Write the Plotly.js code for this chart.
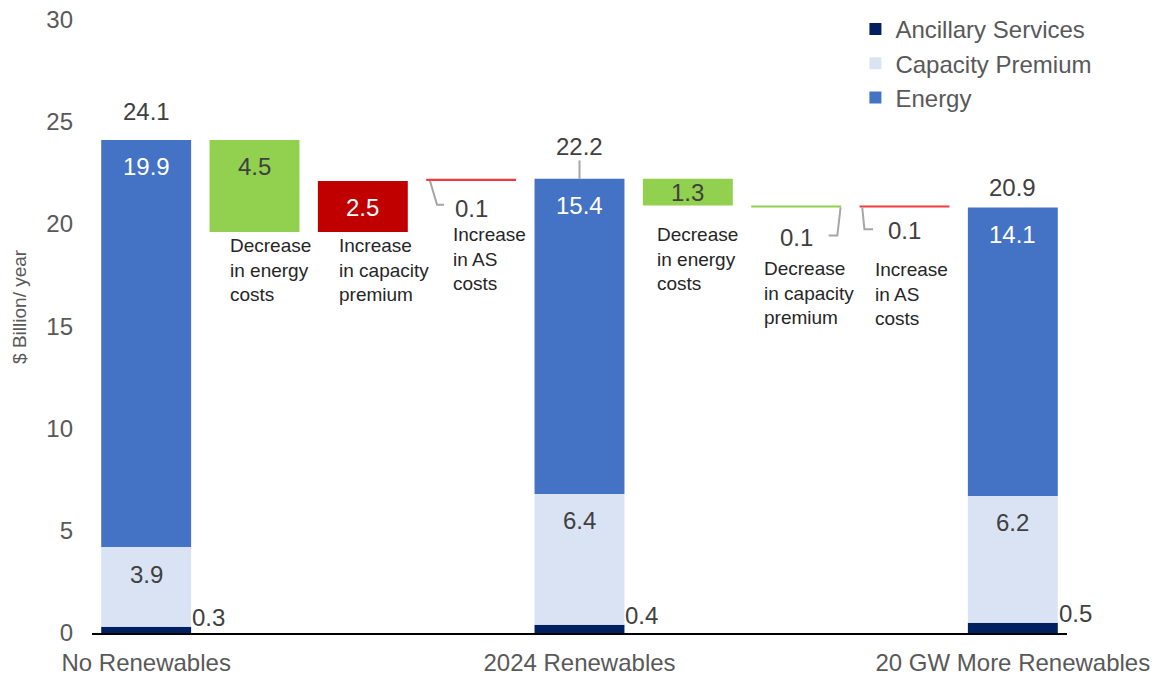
<!DOCTYPE html>
<html>
<head>
<meta charset="utf-8">
<script src="https://cdn.plot.ly/plotly-3.0.1.min.js"></script>
<style>html,body{margin:0;padding:0;background:#fff;}#chart{width:1162px;height:677px;}</style>
</head>
<body>
<div id="chart"></div>
<script>
// ---- data ----
const scenarioNames = ['No Renewables', '2024 Renewables', '20 GW More Renewables'];
const scenarioX = [0, 4, 8];
const ancillary = [0.3, 0.4, 0.5];
const capacityPremium = [3.9, 6.4, 6.2];
const energy = [19.9, 15.4, 14.1];
const totals = [24.1, 22.2, 20.9];

const stepX = [1, 2, 3, 5, 6, 7];
const stepLabels = ['Decrease<br>in energy<br>costs', 'Increase<br>in capacity<br>premium', 'Increase<br>in AS<br>costs',
                    'Decrease<br>in energy<br>costs', 'Decrease<br>in capacity<br>premium', 'Increase<br>in AS<br>costs'];
const stepChanges = [-4.5, 2.5, 0.1, -1.3, -0.1, 0.1];

// ---- styles ----
const FONT = 'Liberation Sans, Arial, sans-serif';
const stepColors = ['#92D050', '#C00000', '#F03C3C', '#92D050', '#92D050', '#F03C3C'];
const stepTextColors = ['#404040', '#ffffff', '#404040', '#404040', '#404040', '#404040'];
const labelXShift = [-27, -26, -20, -33, -34, -32];
const labelYShift = [-1, -1, -41, -17, -49, -50];
const totalYShift = [13, 17, 2];
const INSIDE_DROP = -27; // px from segment top to label centre

// waterfall starts: first block from totals[0], second block from totals[1]
const stepStart = [];
const stepEnd = [];
let level = totals[0];
stepChanges.forEach((c, i) => {
  if (i === 3) level = totals[1];
  stepStart.push(level);
  level = +(level + c).toFixed(2);
  stepEnd.push(level);
});
const stepBase = stepStart.map((s, i) => Math.min(s, stepEnd[i]));
const stepTop = stepStart.map((s, i) => Math.max(s, stepEnd[i]));
const stepHeight = stepChanges.map(c => Math.abs(c));

const BW = 0.83;
const cpBase = ancillary.slice();
const enBase = ancillary.map((a, i) => a + capacityPremium[i]);

const traces = [
  {type: 'bar', name: 'Ancillary Services', x: scenarioX, y: ancillary, base: 0, width: BW,
   marker: {color: '#002060'}, hoverinfo: 'skip'},
  {type: 'bar', name: 'Capacity Premium', x: scenarioX, y: capacityPremium, base: cpBase, width: BW,
   marker: {color: '#DAE3F3'}, hoverinfo: 'skip'},
  {type: 'bar', name: 'Energy', x: scenarioX, y: energy, base: enBase, width: BW,
   marker: {color: '#4472C4'}, hoverinfo: 'skip'},
  {type: 'bar', name: 'Change', showlegend: false, x: stepX, y: stepHeight, base: stepBase, width: BW,
   marker: {color: stepColors}, hoverinfo: 'skip'}
];

const annotations = [];
const shapes = [];
const numFont = (c) => ({family: FONT, size: 24, color: c});

scenarioX.forEach((x, i) => {
  annotations.push({x: x, y: totals[i], xref: 'x', yref: 'y', text: totals[i].toFixed(1), showarrow: false,
    yanchor: 'bottom', yshift: totalYShift[i], font: numFont('#404040')});
  annotations.push({x: x + BW / 2, y: ancillary[i], xref: 'x', yref: 'y', text: ancillary[i].toFixed(1), showarrow: false,
    xanchor: 'left', yanchor: 'bottom', yshift: -6, xshift: -1, font: numFont('#404040')});
  annotations.push({x: x, y: cpBase[i] + capacityPremium[i], xref: 'x', yref: 'y', text: capacityPremium[i].toFixed(1),
    showarrow: false, yanchor: 'middle', yshift: INSIDE_DROP, font: numFont('#404040')});
  annotations.push({x: x, y: enBase[i] + energy[i], xref: 'x', yref: 'y', text: energy[i].toFixed(1),
    showarrow: false, yanchor: 'middle', yshift: INSIDE_DROP, font: numFont('#ffffff')});
});
shapes.push({type: 'line', xref: 'x', yref: 'y', x0: scenarioX[1], x1: scenarioX[1], y0: totals[1], y1: totals[1] + 0.9,
  line: {color: '#A6A6A6', width: 2}});

stepX.forEach((x, i) => {
  if (stepHeight[i] >= 2) {
    annotations.push({x: x, y: stepTop[i], xref: 'x', yref: 'y', text: stepHeight[i].toFixed(1), showarrow: false,
      yanchor: 'middle', yshift: INSIDE_DROP, font: numFont(stepTextColors[i])});
  } else if (stepHeight[i] >= 1) {
    annotations.push({x: x, y: stepBase[i] + stepHeight[i] / 2, xref: 'x', yref: 'y', text: stepHeight[i].toFixed(1),
      showarrow: false, yanchor: 'middle', font: numFont(stepTextColors[i])});
  }
  annotations.push({x: x, y: stepBase[i], xref: 'x', yref: 'y', text: stepLabels[i], showarrow: false,
    xanchor: 'left', yanchor: 'top', align: 'left', xshift: labelXShift[i], yshift: labelYShift[i],
    font: {family: FONT, size: 19, color: '#262626'}});
});
const smallLeader = {
  2: {pts: [[-0.38, 0], [-0.315, -1.17], [-0.25, -1.17]], ly: -28},
  4: {pts: [[0.41, 0], [0.38, -1.37], [0.30, -1.37]], ly: -30},
  5: {pts: [[-0.39, 0], [-0.37, -1.07], [-0.29, -1.07]], ly: -23}
};
Object.keys(smallLeader).forEach(k => {
  const i = +k;
  const L = smallLeader[k];
  const x = stepX[i], y = stepBase[i];
  const path = L.pts.map((p, j) => (j === 0 ? 'M' : 'L') + (x + p[0]) + ',' + (y + p[1])).join(' ');
  shapes.push({type: 'path', xref: 'x', yref: 'y', path: path, line: {color: '#A6A6A6', width: 2}});
  annotations.push({x: x, y: y, xref: 'x', yref: 'y', text: stepHeight[i].toFixed(1), showarrow: false,
    yanchor: 'middle', yshift: L.ly, font: numFont('#404040')});
});
annotations.push({xref: 'paper', yref: 'paper', x: -0.0738, y: 0.521, text: '$ Billion/ year', textangle: -90,
  showarrow: false, xanchor: 'center', yanchor: 'middle', font: {family: FONT, size: 19, color: '#595959'}});

const layout = {
  width: 1162, height: 677,
  margin: {l: 92, r: 95, t: 7, b: 44},
  paper_bgcolor: '#ffffff', plot_bgcolor: '#ffffff',
  barmode: 'overlay',
  showlegend: true,
  legend: {x: 0.783, y: 1.0, xanchor: 'left', yanchor: 'top',
    traceorder: 'normal', tracegroupgap: 0,
    font: {family: FONT, size: 24, color: '#595959'}, bgcolor: 'rgba(0,0,0,0)', itemwidth: 30},
  font: {family: FONT, color: '#595959'},
  xaxis: {range: [-0.5, 8.5], tickvals: scenarioX, ticktext: scenarioNames, showgrid: false, zeroline: false,
    showline: true, linecolor: '#000000', linewidth: 2, ticks: '', ticklabelstandoff: 7,
    tickfont: {family: FONT, size: 24, color: '#595959'}, automargin: false, fixedrange: true},
  yaxis: {range: [0, 30.6], tickvals: [0, 5, 10, 15, 20, 25, 30], showgrid: false, zeroline: false, showline: false, ticks: '',
    tickfont: {family: FONT, size: 24, color: '#595959'}, ticklabelstandoff: 18,
    automargin: false, fixedrange: true},
  annotations: annotations,
  shapes: shapes
};

Plotly.newPlot('chart', traces, layout, {displayModeBar: false, staticPlot: true});
</script>
</body>
</html>
